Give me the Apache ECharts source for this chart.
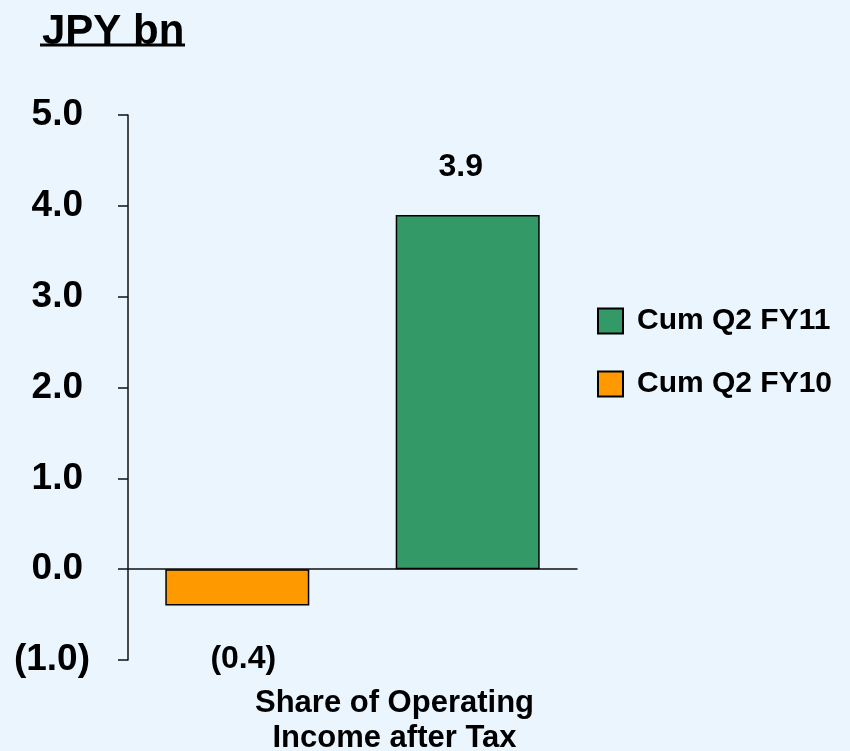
<!DOCTYPE html>
<html>
<head>
<meta charset="utf-8">
<script src="https://cdn.jsdelivr.net/npm/echarts@6/dist/echarts.min.js"></script>
<style>
  html, body { margin: 0; padding: 0; background: #EAF5FE; }
  #chart { width: 850px; height: 751px; }
</style>
</head>
<body>
<div id="chart"></div>
<script>
// data
const categories = ["Share of Operating\nIncome after Tax"];
const seriesNames = ["Cum Q2 FY10", "Cum Q2 FY11"];
const fy10 = [-0.4];
const fy11 = [3.9];
const yTicks = { min: -1, max: 5, step: 1 };

const font = "Liberation Sans, Arial, sans-serif";

// accounting style: negatives in brackets
function fmt(v) {
  return v < 0 ? "(" + Math.abs(v).toFixed(1) + ")" : v.toFixed(1);
}

const chart = echarts.init(document.getElementById("chart"));
chart.setOption({
  backgroundColor: "#EAF5FE",
  animation: false,
  textStyle: { fontFamily: font },
  title: {
    text: "JPY bn",
    left: 37,
    top: 6,
    textStyle: { fontSize: 42, fontWeight: "bold", color: "#000", fontFamily: font }
  },
  graphic: [{
    type: "line",
    shape: { x1: 40, y1: 45, x2: 185, y2: 45 },
    style: { stroke: "#000", lineWidth: 3 }
  }],
  legend: {
    orient: "vertical",
    left: 592,
    top: 301,
    icon: "rect",
    itemWidth: 25,
    itemHeight: 25,
    itemGap: 33,
    data: [seriesNames[1], seriesNames[0]],
    textStyle: { fontSize: 30, fontWeight: "bold", color: "#000", padding: [0, 0, 0, 9] }
  },
  grid: { left: 128, right: 273, top: 115, bottom: 91, containLabel: false, outerBoundsMode: "none" },
  xAxis: {
    type: "category",
    data: categories,
    axisLine: { onZero: true, lineStyle: { color: "#111", width: 1.5 } },
    axisTick: { show: false },
    axisLabel: {
      margin: 26,
      fontSize: 31,
      fontWeight: "bold",
      color: "#000",
      lineHeight: 35,
      padding: [0, 0, 0, 84]
    }
  },
  yAxis: {
    type: "value",
    min: yTicks.min,
    max: yTicks.max,
    interval: yTicks.step,
    splitLine: { show: false },
    axisLine: { show: true, lineStyle: { color: "#111", width: 1.5 } },
    axisTick: { show: true, length: 10, lineStyle: { color: "#111", width: 1.5 } },
    axisLabel: {
      margin: 38,
      fontSize: 37,
      fontWeight: "bold",
      color: "#000",
      formatter: v => v < 0 ? fmt(v) : "{p|" + fmt(v) + "}",
      rich: {
        p: { fontSize: 37, fontWeight: "bold", color: "#000", padding: [0, 7, 0, 0] }
      }
    }
  },
  series: [
    {
      name: seriesNames[0],
      type: "bar",
      data: fy10,
      barWidth: 144,
      barGap: "60%",
      itemStyle: { color: "#FF9900", borderColor: "#000", borderWidth: 1.5 },
      label: {
        show: true,
        position: "bottom",
        distance: 38,
        offset: [6, 0],
        fontSize: 32,
        fontWeight: "bold",
        color: "#000",
        formatter: p => fmt(p.value)
      }
    },
    {
      name: seriesNames[1],
      type: "bar",
      data: fy11,
      barWidth: 144,
      itemStyle: { color: "#339966", borderColor: "#000", borderWidth: 1.5 },
      label: {
        show: true,
        position: "top",
        distance: 32,
        offset: [-7, 0],
        fontSize: 32,
        fontWeight: "bold",
        color: "#000",
        formatter: p => fmt(p.value)
      }
    }
  ]
});
</script>
</body>
</html>
